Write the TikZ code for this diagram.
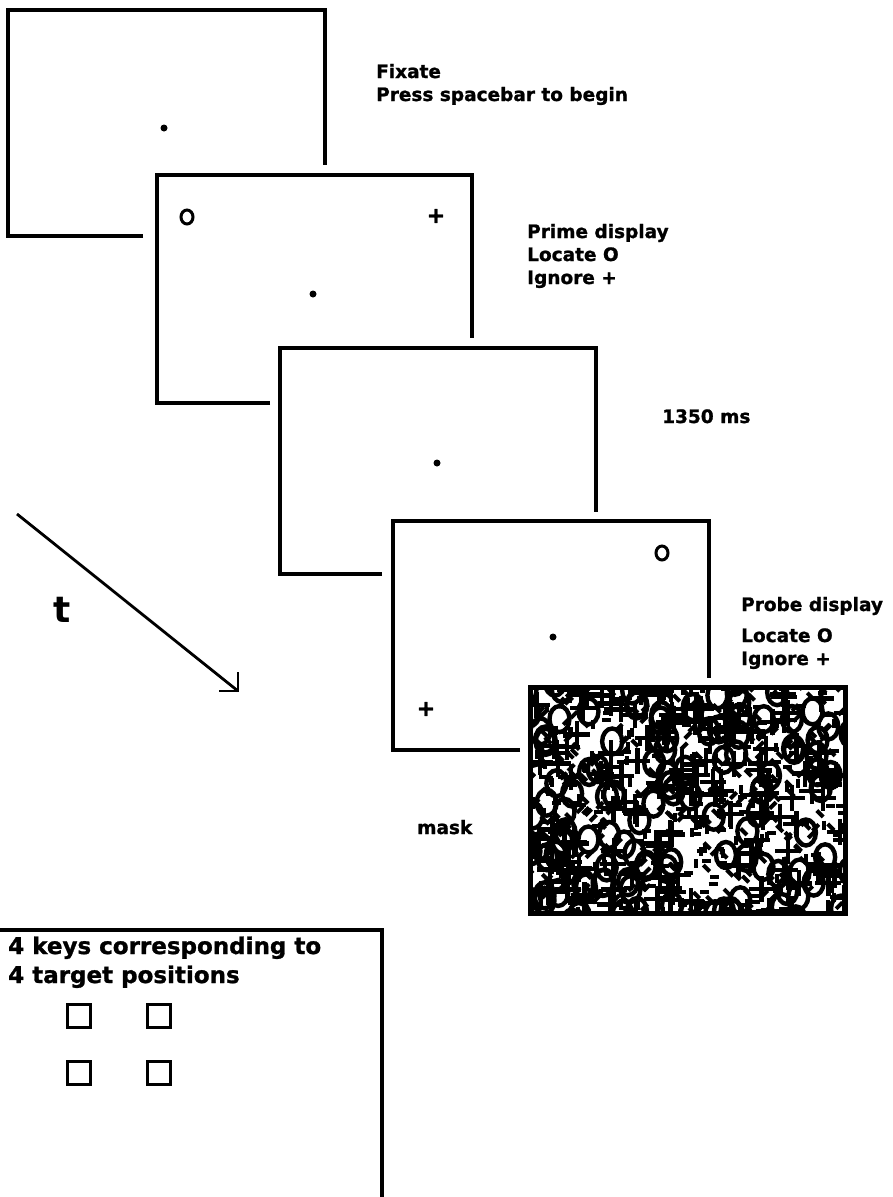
\documentclass[tikz,border=0pt]{standalone}
\usepackage{fontspec}
\setmainfont{DejaVu Sans}
\newfontfamily\capfont[FakeBold=1.2]{DejaVu Sans Bold}
\usetikzlibrary{shapes.geometric}
\tikzset{
  screen/.style={line width=3.2pt, line join=miter},
  caption/.style={font=\capfont\fontsize{18.5}{22}\selectfont, anchor=base west, inner sep=0pt},
  keytext/.style={font=\capfont\fontsize{23}{28}\selectfont, anchor=base west, inner sep=0pt},
  ring/.style={draw, ellipse, line width=3pt, minimum width=12pt, minimum height=14pt, inner sep=0pt},
  cross/.style={font=\capfont\fontsize{22}{22}\selectfont, inner sep=0pt},
  fixdot/.style={circle, fill, inner sep=0pt, minimum size=7pt},
  keybox/.style={draw, line width=3pt, minimum size=23pt, inner sep=0pt},
  noise/.style={line width=4.4pt},
}
\begin{document}
\begin{tikzpicture}[x=1pt, y=-1pt]
  \useasboundingbox (0,0) rectangle (893,1197);

  % screens, each one partly hidden by the next
  \draw[screen] (143,236) -- (8,236) -- (8,10) -- (325,10) -- (325,165);
  \draw[screen] (270,403) -- (157,403) -- (157,175) -- (472,175) -- (472,338);
  \draw[screen] (382,574) -- (280,574) -- (280,348) -- (596,348) -- (596,512);
  \draw[screen] (520,750) -- (393,750) -- (393,521) -- (709,521) -- (709,678);

  % screen contents
  \node[fixdot] (dot1) at (164,128) {};
  \node[ring] (prO) at (187,217) {};
  \node[cross] (prplus) at (436,216) {+};
  \node[fixdot] (dot2) at (313,294) {};
  \node[fixdot] (dot3) at (437,463) {};
  \node[ring] (pbO) at (662,553) {};
  \node[fixdot] (dot4) at (553,637) {};
  \node[cross] (pbplus) at (426,709) {+};

  % captions
  \node[caption] (fix) at (376,78) {Fixate};
  \node[caption] (press) at (376,101) {Press spacebar to begin};
  \node[caption] (prime) at (527,238) {Prime display};
  \node[caption] (prloc) at (527,261) {Locate O};
  \node[caption] (prign) at (527,284) {Ignore +};
  \node[caption] (soa) at (662,423) {1350 ms};
  \node[caption] (probe) at (741,611) {Probe display};
  \node[caption] (pbloc) at (741,642) {Locate O};
  \node[caption] (pbign) at (741,665) {Ignore +};
  \node[caption] (masklbl) at (417,834) {mask};

  % time arrow
  \coordinate (tstart) at (17,514);
  \coordinate (tend) at (238,691);
  \draw[line width=2.8pt] (tstart) -- (tend);
  \draw[line width=2.8pt] ([yshift=19pt]tend) -- (tend) -- ([xshift=-19pt]tend);
  \node[font=\fontsize{36}{40}\selectfont\bfseries, anchor=base west, inner sep=0pt] (tlbl) at (53,622) {t};

  % mask
  \fill[white] (530,687) rectangle (845,913);
  \begin{scope}
    \clip (530,687) rectangle (845,913);
    \pgfmathsetseed{7}
    \foreach \k in {1,...,120}{
      \pgfmathsetmacro\mx{520+335*rnd}
      \pgfmathsetmacro\my{678+245*rnd}
      \draw[noise] (\mx,\my) ellipse [x radius=10, y radius=13];
    }
    \foreach \k in {1,...,150}{
      \pgfmathsetmacro\mx{520+335*rnd}
      \pgfmathsetmacro\my{678+245*rnd}
      \draw[noise] (\mx-13,\my) -- (\mx+13,\my) (\mx,\my-13) -- (\mx,\my+13);
    }
    \foreach \k in {1,...,600}{
      \pgfmathsetmacro\mx{520+335*rnd}
      \pgfmathsetmacro\my{678+245*rnd}
      \pgfmathsetmacro\ang{45*int(4*rnd)}
      \draw[noise, line width=4pt] (\mx,\my) -- ++(\ang:9);
    }
  \end{scope}
  \draw[line width=5pt] (530,687) rectangle (845,913);

  % response keys
  \draw[screen] (0,930) -- (382,930) -- (382,1197);
  \node[keytext] (keys1) at (8,954) {4 keys corresponding to};
  \node[keytext] (keys2) at (8,983) {4 target positions};
  \node[keybox] (key1) at (79,1016) {};
  \node[keybox] (key2) at (159,1016) {};
  \node[keybox] (key3) at (79,1073) {};
  \node[keybox] (key4) at (159,1073) {};
\end{tikzpicture}
\end{document}
